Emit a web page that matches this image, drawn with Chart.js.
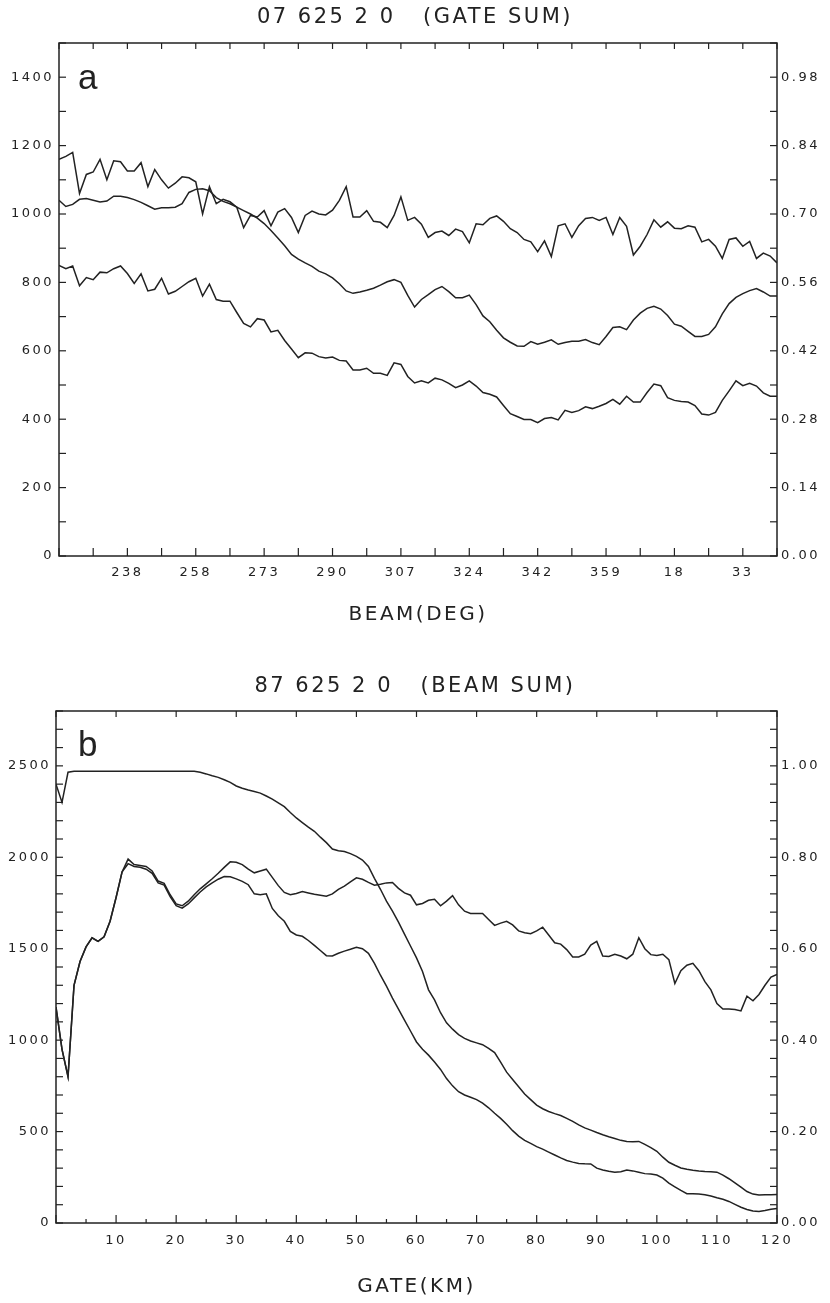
<!DOCTYPE html>
<html>
<head>
<meta charset="utf-8">
<script src="https://cdn.jsdelivr.net/npm/chart.js@4.4.1/dist/chart.umd.min.js"></script>
<style>
  body { margin: 0; background: #fff; }
  .panel { position: relative; width: 830px; }
</style>
</head>
<body>
<div class="panel" style="height:650px"><canvas id="gateSum"></canvas></div>
<div class="panel" style="height:653px"><canvas id="beamSum"></canvas></div>
<script>
// ---- panel a : gate sum, plotted against beam ----
const beamTickLabels = ['238', '258', '273', '290', '307', '324', '342', '359', '18', '33'];
const beamIndex = Array.from({ length: 106 }, (_, i) => i);

// ratio, right axis
const aRatio = [
  0.812, 0.818, 0.826, 0.742, 0.781, 0.786, 0.812, 0.770, 0.809, 0.807,
  0.788, 0.788, 0.805, 0.756, 0.791, 0.770, 0.753, 0.763, 0.776, 0.774,
  0.766, 0.700, 0.756, 0.721, 0.730, 0.725, 0.714, 0.672, 0.697, 0.694,
  0.707, 0.676, 0.704, 0.711, 0.693, 0.662, 0.697, 0.706, 0.700, 0.698,
  0.708, 0.728, 0.756, 0.694, 0.694, 0.707, 0.685, 0.683, 0.672, 0.697,
  0.735, 0.687, 0.693, 0.679, 0.652, 0.662, 0.665, 0.656, 0.669, 0.664,
  0.641, 0.680, 0.678, 0.691, 0.696, 0.685, 0.670, 0.662, 0.648, 0.643,
  0.623, 0.645, 0.613, 0.676, 0.680, 0.652, 0.676, 0.691, 0.693, 0.687,
  0.693, 0.658, 0.693, 0.675, 0.616, 0.634, 0.658, 0.688, 0.673, 0.684,
  0.671, 0.670, 0.676, 0.673, 0.643, 0.648, 0.634, 0.609, 0.648, 0.651,
  0.634, 0.644, 0.609, 0.620, 0.614, 0.600
];
const aSumUpper = [
  1040, 1022, 1028, 1043, 1045, 1040, 1035, 1038, 1052, 1052,
  1048, 1042, 1034, 1024, 1014, 1018, 1018, 1020, 1030, 1063,
  1072, 1074, 1068, 1048, 1037, 1030, 1020, 1010, 1000, 988,
  972, 952, 930, 907, 882, 868, 857, 847, 833, 825,
  813, 796, 775, 768, 772, 777, 783, 792, 802, 808,
  800, 762, 728, 750, 764, 779, 788, 773, 755, 755,
  763, 735, 702, 685, 660, 638, 625, 614, 613, 627,
  619, 625, 632, 619, 624, 628, 628, 633, 624, 618,
  642, 668, 670, 662, 690, 710, 724, 730, 722, 703,
  678, 672, 657, 642, 642, 648, 670, 708, 738, 756,
  767, 776, 782, 772, 760, 760
];
const aSumLower = [
  850, 840, 848, 790, 814, 808, 830, 828, 840, 848,
  826, 797, 825, 775, 780, 812, 766, 774, 788, 802,
  812, 760, 795, 750, 745, 745, 712, 680, 670, 694,
  690, 655, 660, 630, 605, 580, 594, 593, 583, 579,
  582, 572, 570, 544, 544, 549, 534, 534, 528, 565,
  560, 525, 506, 512, 506, 520, 515, 505, 492, 500,
  512, 497, 478, 473, 465, 440, 416, 408, 399, 399,
  390, 402, 405, 398, 426, 420, 425, 436, 431, 438,
  446, 458, 444, 467, 450, 450, 478, 503, 498, 463,
  455, 452, 450, 440, 415, 412, 420, 455, 483, 512,
  498, 505, 497, 477, 467, 467
];

// ---- panel b : beam sum, plotted against gate ----
const gateKm = Array.from({ length: 121 }, (_, i) => i);

const bSumUpper = [
  2400, 2300, 2465, 2470, 2470, 2470, 2470, 2470, 2470, 2470,
  2470, 2470, 2470, 2470, 2470, 2470, 2470, 2470, 2470, 2470,
  2470, 2470, 2470, 2470, 2465, 2456, 2446, 2437, 2424, 2410,
  2390, 2378, 2368, 2360, 2351, 2335, 2318, 2298, 2277, 2245,
  2215, 2190, 2165, 2142, 2110, 2080, 2045, 2036, 2032, 2020,
  2005, 1985, 1950, 1885, 1825, 1760, 1705, 1645, 1580, 1515,
  1450, 1375, 1275, 1220, 1150, 1095, 1060, 1030, 1010, 995,
  985, 975, 955, 932, 880, 825, 785, 745, 705, 675,
  645, 625, 610, 598, 588, 572, 556, 537, 520, 508,
  495, 483, 472, 462, 452, 446, 444, 446, 430, 412,
  392, 360, 332, 316, 301, 294, 289, 285, 282, 280,
  278, 262, 242, 220, 196, 172, 158, 153, 154, 155,
  156
];
const bSumLower = [
  1180, 950, 800, 1300, 1430, 1510, 1560, 1540, 1565, 1650,
  1780, 1920, 1965, 1950, 1945, 1935, 1912, 1860, 1848, 1785,
  1735, 1722, 1745, 1778, 1810, 1838, 1860, 1880, 1895, 1893,
  1882, 1868, 1850, 1800, 1795, 1800, 1720, 1680, 1650, 1595,
  1575, 1568, 1545, 1518, 1490, 1462, 1460, 1475, 1487, 1497,
  1508, 1500, 1475, 1420, 1355, 1295, 1230, 1170, 1110, 1050,
  990, 950, 918, 880, 840, 790, 750, 718, 700, 688,
  675, 655, 630, 600, 572, 540, 505, 475, 452, 435,
  418, 404, 388, 372, 356, 342, 333, 326, 324, 323,
  300, 290, 283, 278, 280, 290, 285, 278, 270, 268,
  262, 245, 218, 198, 178, 160, 160, 158, 155, 148,
  138, 130, 118, 102, 86, 74, 66, 63, 68, 75,
  80
];
// ratio, right axis
const bRatio = [
  0.472, 0.380, 0.320, 0.520, 0.572, 0.604, 0.624, 0.616, 0.626, 0.660,
  0.712, 0.768, 0.796, 0.784, 0.782, 0.780, 0.770, 0.748, 0.743, 0.718,
  0.698, 0.694, 0.704, 0.718, 0.731, 0.742, 0.753, 0.765, 0.778, 0.790,
  0.789, 0.784, 0.774, 0.766, 0.770, 0.774, 0.756, 0.738, 0.723, 0.718,
  0.721, 0.725, 0.722, 0.719, 0.717, 0.715, 0.720, 0.730, 0.737, 0.746,
  0.755, 0.752, 0.745, 0.739, 0.741, 0.744, 0.745, 0.732, 0.722, 0.717,
  0.696, 0.699, 0.706, 0.708, 0.694, 0.704, 0.716, 0.696, 0.682, 0.677,
  0.677, 0.677, 0.664, 0.651, 0.656, 0.660, 0.652, 0.639, 0.635, 0.633,
  0.639, 0.647, 0.630, 0.613, 0.610, 0.598, 0.582, 0.582, 0.588, 0.608,
  0.616, 0.584, 0.583, 0.588, 0.584, 0.578, 0.588, 0.624, 0.600, 0.587,
  0.585, 0.588, 0.576, 0.524, 0.552, 0.564, 0.568, 0.552, 0.528, 0.510,
  0.480, 0.468, 0.468, 0.467, 0.464, 0.496, 0.486, 0.500, 0.520, 0.538,
  0.544
];

const INK = '#222';
const FONT = 'DejaVu Sans';

// box round the plot, inward tick marks and the panel letter
function makeFrame(letter, lx, ly, marks) {
  return {
    id: 'frame',
    beforeLayout(chart) { chart.ctx.letterSpacing = '2.5px'; },
    beforeDraw(chart) { chart.ctx.letterSpacing = '2.5px'; },
    afterDatasetsDraw(chart) {
      const { ctx, chartArea: a } = chart;
      ctx.save();
      ctx.strokeStyle = INK;
      ctx.lineWidth = 1.5;
      ctx.strokeRect(a.left, a.top, a.right - a.left, a.bottom - a.top);
      ctx.lineWidth = 1.2;
      marks.forEach(m => {
        const s = chart.scales[m.scale];
        s.ticks.forEach((t, i) => {
          const len = i % m.every === 0 ? m.len : m.minor;
          if (!len) return;
          const p = s.getPixelForValue(t.value);
          ctx.beginPath();
          if (m.edge === 'bottom') { ctx.moveTo(p, a.bottom); ctx.lineTo(p, a.bottom - len); }
          if (m.edge === 'top') { ctx.moveTo(p, a.top); ctx.lineTo(p, a.top + len); }
          if (m.edge === 'left') { ctx.moveTo(a.left, p); ctx.lineTo(a.left + len, p); }
          if (m.edge === 'right') { ctx.moveTo(a.right, p); ctx.lineTo(a.right - len, p); }
          ctx.stroke();
        });
      });
      ctx.letterSpacing = '0px';
      ctx.font = '35px "Liberation Sans"';
      ctx.fillStyle = INK;
      ctx.fillText(letter, a.left + lx, a.top + ly);
      ctx.restore();
    }
  };
}

function line(data, axis) {
  return {
    data, yAxisID: axis,
    borderColor: INK, borderWidth: 1.5,
    pointRadius: 0, tension: 0, fill: false
  };
}

const tickFont = { family: FONT, size: 13 };
const noGrid = { display: false, drawTicks: false };

new Chart(document.getElementById('gateSum'), {
  type: 'line',
  data: {
    labels: beamIndex,
    datasets: [line(aRatio, 'yR'), line(aSumUpper, 'y'), line(aSumLower, 'y')]
  },
  options: {
    responsive: true,
    maintainAspectRatio: false,
    animation: false,
    layout: { padding: 0 },
    plugins: {
      legend: { display: false },
      tooltip: { enabled: false },
      title: {
        display: true,
        text: '07 625 2 0   (GATE SUM)',
        color: INK,
        font: { family: FONT, size: 21, weight: 'normal' },
        padding: { top: 5, bottom: 12.8 }
      }
    },
    scales: {
      x: {
        type: 'linear', min: 0, max: 105,
        grid: noGrid, border: { display: false },
        afterFit: s => { s.height = 94; },
        ticks: {
          stepSize: 5, autoSkip: false, maxRotation: 0, padding: 9,
          color: INK, font: tickFont,
          callback: v => (v % 10 === 0 && v > 0 ? beamTickLabels[v / 10 - 1] : '')
        },
        title: {
          display: true, text: 'BEAM(DEG)', color: INK,
          font: { family: FONT, size: 20 }, padding: { top: 0, bottom: 23 }
        }
      },
      y: {
        min: 0, max: 1500,
        grid: noGrid, border: { display: false },
        afterFit: s => { s.width = 59; },
        ticks: {
          stepSize: 100, autoSkip: false, padding: 5,
          color: INK, font: tickFont,
          callback: v => (v % 200 === 0 && v < 1500 ? v : '')
        }
      },
      yR: {
        position: 'right', min: 0, max: 1.05,
        grid: noGrid, border: { display: false },
        afterFit: s => { s.width = 53; },
        ticks: {
          stepSize: 0.07, autoSkip: false, padding: 4,
          color: INK, font: tickFont,
          callback: v => (Math.round(v / 0.07) % 2 === 0 ? v.toFixed(2) : '')
        }
      }
    }
  },
  plugins: [makeFrame('a', 19, 46, [
    { scale: 'x', edge: 'bottom', len: 8, minor: 8, every: 1 },
    { scale: 'x', edge: 'top', len: 6, minor: 6, every: 1 },
    { scale: 'y', edge: 'left', len: 7, minor: 7, every: 1 },
    { scale: 'yR', edge: 'right', len: 7, minor: 7, every: 1 }
  ])]
});

new Chart(document.getElementById('beamSum'), {
  type: 'line',
  data: {
    labels: gateKm,
    datasets: [line(bRatio, 'yR'), line(bSumUpper, 'y'), line(bSumLower, 'y')]
  },
  options: {
    responsive: true,
    maintainAspectRatio: false,
    animation: false,
    layout: { padding: 0 },
    plugins: {
      legend: { display: false },
      tooltip: { enabled: false },
      title: {
        display: true,
        text: '87 625 2 0   (BEAM SUM)',
        color: INK,
        font: { family: FONT, size: 21, weight: 'normal' },
        padding: { top: 24.4, bottom: 11.4 }
      }
    },
    scales: {
      x: {
        type: 'linear', min: 0, max: 120,
        grid: noGrid, border: { display: false },
        afterFit: s => { s.height = 80; },
        ticks: {
          stepSize: 5, autoSkip: false, maxRotation: 0, padding: 10,
          color: INK, font: tickFont,
          callback: v => (v % 10 === 0 && v > 0 ? v : '')
        },
        title: {
          display: true, text: 'GATE(KM)', color: INK,
          font: { family: FONT, size: 20 }, padding: { top: 0, bottom: 4 }
        }
      },
      y: {
        min: 0, max: 2800,
        grid: noGrid, border: { display: false },
        afterFit: s => { s.width = 56; },
        ticks: {
          stepSize: 100, autoSkip: false, padding: 5,
          color: INK, font: tickFont,
          callback: v => (v % 500 === 0 ? v : '')
        }
      },
      yR: {
        position: 'right', min: 0, max: 1.12,
        grid: noGrid, border: { display: false },
        afterFit: s => { s.width = 53; },
        ticks: {
          stepSize: 0.04, autoSkip: false, padding: 4,
          color: INK, font: tickFont,
          callback: v => (Math.round(v / 0.04) % 5 === 0 ? v.toFixed(2) : '')
        }
      }
    }
  },
  plugins: [makeFrame('b', 22, 45, [
    { scale: 'x', edge: 'bottom', len: 8, minor: 4, every: 2 },
    { scale: 'x', edge: 'top', len: 6, minor: 0, every: 2 },
    { scale: 'y', edge: 'left', len: 7, minor: 7, every: 1 },
    { scale: 'yR', edge: 'right', len: 7, minor: 7, every: 1 }
  ])]
});
</script>
</body>
</html>
